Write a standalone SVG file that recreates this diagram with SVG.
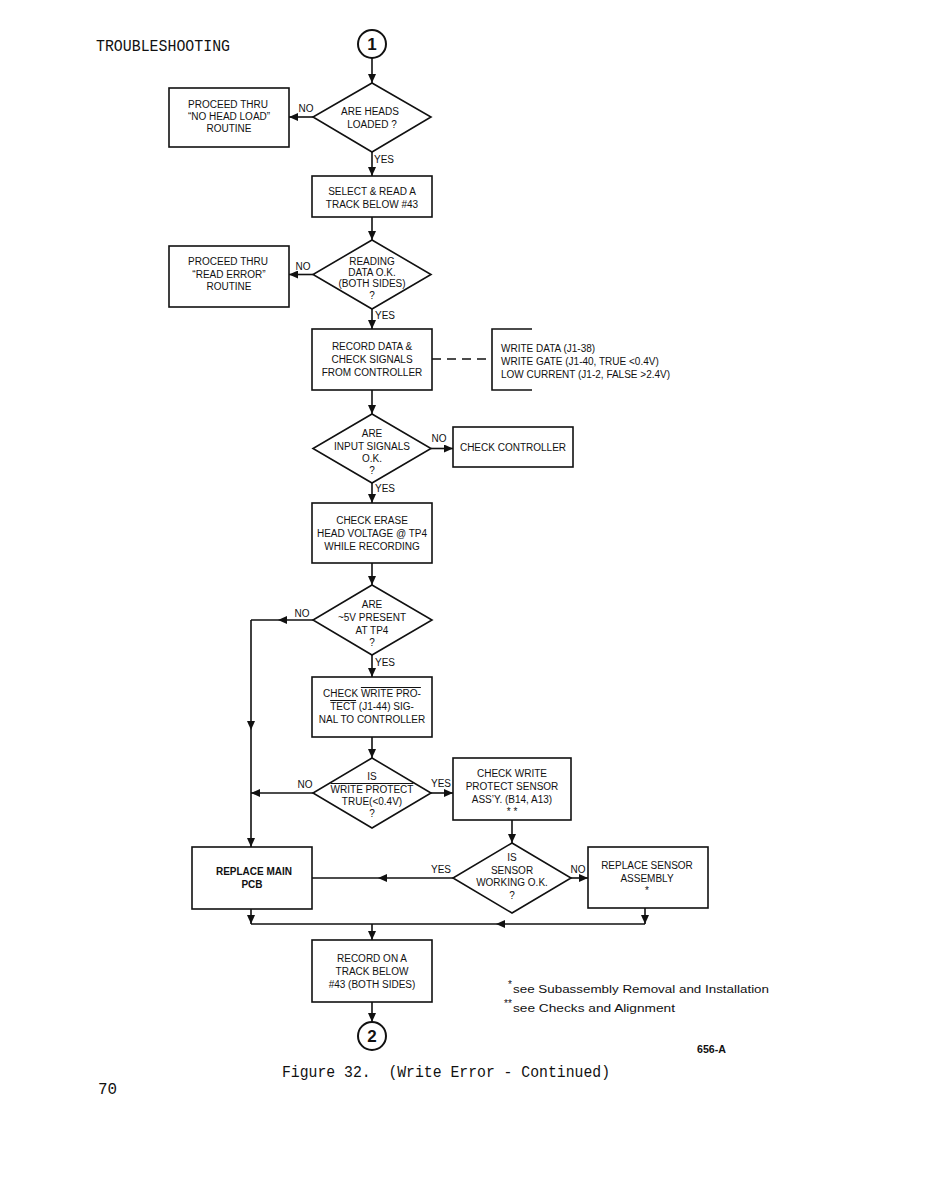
<svg xmlns="http://www.w3.org/2000/svg" width="927" height="1195" viewBox="0 0 927 1195">
<style>
.bx{fill:none;stroke:#111;stroke-width:1.6}
.t{font-family:"Liberation Sans",Arial,sans-serif;font-size:10px;fill:#111;text-anchor:middle}
.l{font-family:"Liberation Sans",Arial,sans-serif;font-size:10px;fill:#111}
.c{fill:none;stroke:#111;stroke-width:1.6}
.mono{font-family:"Liberation Mono","DejaVu Sans Mono",monospace;fill:#111;white-space:pre}
</style>
<defs>
<marker id="a" markerUnits="userSpaceOnUse" markerWidth="10" markerHeight="8" refX="9" refY="4" orient="auto">
<path d="M0,0 L9,4 L0,8 z" fill="#111"/>
</marker>
<marker id="m" markerUnits="userSpaceOnUse" markerWidth="10" markerHeight="8" refX="5" refY="4" orient="auto">
<path d="M0,0 L9,4 L0,8 z" fill="#111"/>
</marker>
</defs>
<rect width="927" height="1195" fill="#fff"/>

<text class="mono" x="96" y="51" font-size="16" textLength="134" lengthAdjust="spacingAndGlyphs">TROUBLESHOOTING</text>

<g id="start1">
<circle cx="372" cy="44" r="14" fill="none" stroke="#111" stroke-width="2"/>
<text x="372" y="50" font-family="Liberation Sans Narrow,Liberation Sans,sans-serif" font-size="17" font-weight="bold" text-anchor="middle" fill="#111">1</text>
</g>

<g id="d_heads">
<polygon class="bx" points="372,83 431,117 372,152 313,117"/>
<text class="t" x="370" y="115">ARE HEADS</text>
<text class="t" x="372" y="128">LOADED ?</text>
</g>
<g id="b_nohead">
<rect class="bx" x="169" y="88" width="120" height="59"/>
<text class="t" x="228" y="108">PROCEED THRU</text>
<text class="t" x="229" y="120">“NO HEAD LOAD”</text>
<text class="t" x="229" y="132">ROUTINE</text>
</g>
<g id="b_select">
<rect class="bx" x="312" y="176" width="120" height="41"/>
<text class="t" x="372" y="195">SELECT &amp; READ A</text>
<text class="t" x="372" y="208">TRACK BELOW #43</text>
</g>
<g id="d_reading">
<polygon class="bx" points="372,240 431,274.5 372,309 313,274.5"/>
<text class="t" x="372" y="265">READING</text>
<text class="t" x="372" y="276">DATA O.K.</text>
<text class="t" x="372" y="287">(BOTH SIDES)</text>
<text class="t" x="372" y="299">?</text>
</g>
<g id="b_readerr">
<rect class="bx" x="169" y="246" width="120" height="61"/>
<text class="t" x="228" y="265">PROCEED THRU</text>
<text class="t" x="229" y="278">“READ ERROR”</text>
<text class="t" x="229" y="290">ROUTINE</text>
</g>
<g id="b_record">
<rect class="bx" x="312" y="329" width="120" height="61"/>
<text class="t" x="372" y="350">RECORD DATA &amp;</text>
<text class="t" x="372" y="363">CHECK SIGNALS</text>
<text class="t" x="372" y="376">FROM CONTROLLER</text>
</g>
<g id="note_signals">
<path class="c" d="M532,329 H492 V390 H532"/>
<text class="l" x="501" y="352" font-size="9.5">WRITE DATA (J1-38)</text>
<text class="l" x="501" y="365" font-size="9.5">WRITE GATE (J1-40, TRUE &lt;0.4V)</text>
<text class="l" x="501" y="378" font-size="9.5">LOW CURRENT (J1-2, FALSE &gt;2.4V)</text>
</g>
<g id="d_input">
<polygon class="bx" points="372,414 431,448.5 372,483 313,448.5"/>
<text class="t" x="372" y="437">ARE</text>
<text class="t" x="372" y="450">INPUT SIGNALS</text>
<text class="t" x="372" y="462">O.K.</text>
<text class="t" x="372" y="474">?</text>
</g>
<g id="b_checkctrl">
<rect class="bx" x="453" y="427" width="120" height="40"/>
<text class="t" x="513" y="451">CHECK CONTROLLER</text>
</g>
<g id="b_erase">
<rect class="bx" x="312" y="503" width="120" height="60"/>
<text class="t" x="372" y="524">CHECK ERASE</text>
<text class="t" x="372" y="537">HEAD VOLTAGE @ TP4</text>
<text class="t" x="372" y="550">WHILE RECORDING</text>
</g>
<g id="d_5v">
<polygon class="bx" points="372,585 432,620 372,655 313,620"/>
<text class="t" x="372" y="608">ARE</text>
<text class="t" x="372" y="621">~5V PRESENT</text>
<text class="t" x="372" y="634">AT TP4</text>
<text class="t" x="372" y="646">?</text>
</g>
<g id="b_wp">
<rect class="bx" x="312" y="677" width="120" height="60"/>
<text class="t" x="372" y="697">CHECK <tspan text-decoration="overline">WRITE PRO-</tspan></text>
<text class="t" x="372" y="710"><tspan text-decoration="overline">TECT</tspan> (J1-44) SIG-</text>
<text class="t" x="372" y="723">NAL TO CONTROLLER</text>
</g>
<g id="d_wp">
<polygon class="bx" points="372,758 431,793 372,828 313,793"/>
<text class="t" x="372" y="780">IS</text>
<text class="t" x="372" y="793" text-decoration="overline">WRITE PROTECT</text>
<text class="t" x="372" y="805">TRUE(&lt;0.4V)</text>
<text class="t" x="372" y="817">?</text>
</g>
<g id="b_checksensor">
<rect class="bx" x="453" y="758" width="118" height="62"/>
<text class="t" x="512" y="777">CHECK WRITE</text>
<text class="t" x="512" y="790">PROTECT SENSOR</text>
<text class="t" x="512" y="803">ASS’Y. (B14, A13)</text>
<text class="t" x="512" y="815">* *</text>
</g>
<g id="d_sensor">
<polygon class="bx" points="512,843 571,878 512,913 453,878"/>
<text class="t" x="512" y="861">IS</text>
<text class="t" x="512" y="874">SENSOR</text>
<text class="t" x="512" y="886">WORKING O.K.</text>
<text class="t" x="512" y="899">?</text>
</g>
<g id="b_mainpcb">
<rect class="bx" x="192" y="847" width="120" height="62"/>
<text class="t" x="254" y="875" font-size="11" font-weight="bold">REPLACE MAIN</text>
<text class="t" x="252" y="888" font-size="11" font-weight="bold">PCB</text>
</g>
<g id="b_replsensor">
<rect class="bx" x="588" y="847" width="120" height="61"/>
<text class="t" x="647" y="869">REPLACE SENSOR</text>
<text class="t" x="647" y="882">ASSEMBLY</text>
<text class="t" x="647" y="894">*</text>
</g>
<g id="b_recordon">
<rect class="bx" x="312" y="940" width="120" height="62"/>
<text class="t" x="372" y="962" font-size="9.5">RECORD ON A</text>
<text class="t" x="372" y="975" font-size="9.5">TRACK BELOW</text>
<text class="t" x="372" y="988" font-size="9.5">#43 (BOTH SIDES)</text>
</g>
<g id="end2">
<circle cx="372" cy="1036" r="14" fill="none" stroke="#111" stroke-width="2"/>
<text x="372" y="1042" font-family="Liberation Sans Narrow,Liberation Sans,sans-serif" font-size="17" font-weight="bold" text-anchor="middle" fill="#111">2</text>
</g>

<g id="connectors">
<path class="c" d="M372,58 V83" marker-end="url(#a)"/>
<path class="c" d="M313,117 H289" marker-end="url(#a)"/>
<path class="c" d="M372,152 V176" marker-end="url(#a)"/>
<path class="c" d="M372,217 V240" marker-end="url(#a)"/>
<path class="c" d="M313,274.5 H289" marker-end="url(#a)"/>
<path class="c" d="M372,309 V329" marker-end="url(#a)"/>
<path class="c" d="M432,359 H491" stroke-dasharray="9,6"/>
<path class="c" d="M372,390 V414" marker-end="url(#a)"/>
<path class="c" d="M431,448.5 H453" marker-end="url(#a)"/>
<path class="c" d="M372,483 V503" marker-end="url(#a)"/>
<path class="c" d="M372,563 V585" marker-end="url(#a)"/>
<path class="c" d="M313,620 L282,620 L251,620" marker-mid="url(#m)"/>
<path class="c" d="M251,620 L251,726 L251,847" marker-mid="url(#m)" marker-end="url(#a)"/>
<path class="c" d="M372,655 V677" marker-end="url(#a)"/>
<path class="c" d="M372,737 V758" marker-end="url(#a)"/>
<path class="c" d="M313,793 H251" marker-end="url(#a)"/>
<path class="c" d="M431,793 H453" marker-end="url(#a)"/>
<path class="c" d="M512,820 V843" marker-end="url(#a)"/>
<path class="c" d="M453,878 L382,878 L312,878" marker-mid="url(#m)"/>
<path class="c" d="M571,878 H588" marker-end="url(#a)"/>
<path class="c" d="M251,909 V924" marker-end="url(#a)"/>
<path class="c" d="M645,908 V924" marker-end="url(#a)"/>
<path class="c" d="M645,924 L500,924 L251,924" marker-mid="url(#m)"/>
<path class="c" d="M372,924 V940" marker-end="url(#a)"/>
<path class="c" d="M372,1002 V1022" marker-end="url(#a)"/>
</g>

<g id="labels">
<text class="t" x="306" y="112">NO</text>
<text class="l" x="374" y="163">YES</text>
<text class="t" x="303" y="270">NO</text>
<text class="l" x="375" y="319">YES</text>
<text class="t" x="439" y="442">NO</text>
<text class="l" x="375" y="492">YES</text>
<text class="t" x="302" y="617">NO</text>
<text class="l" x="375" y="666">YES</text>
<text class="t" x="305" y="788">NO</text>
<text class="t" x="441" y="787">YES</text>
<text class="t" x="441" y="873">YES</text>
<text class="t" x="578" y="873">NO</text>
</g>

<g id="footnotes">
<text class="l" x="508" y="988" font-size="11">*</text>
<text class="l" x="513" y="993" font-size="12.5" textLength="256" lengthAdjust="spacingAndGlyphs">see Subassembly Removal and Installation</text>
<text class="l" x="504" y="1007" font-size="11">**</text>
<text class="l" x="513" y="1012" font-size="12.5" textLength="162" lengthAdjust="spacingAndGlyphs">see Checks and Alignment</text>
<text class="l" x="697" y="1053" font-size="10" font-weight="bold" textLength="29" lengthAdjust="spacingAndGlyphs">656-A</text>
</g>

<text class="mono" x="282" y="1077" font-size="16" textLength="328" lengthAdjust="spacingAndGlyphs" xml:space="preserve">Figure 32.  (Write Error - Continued)</text>
<text class="mono" x="98" y="1094" font-size="16" textLength="19" lengthAdjust="spacingAndGlyphs">70</text>
</svg>
